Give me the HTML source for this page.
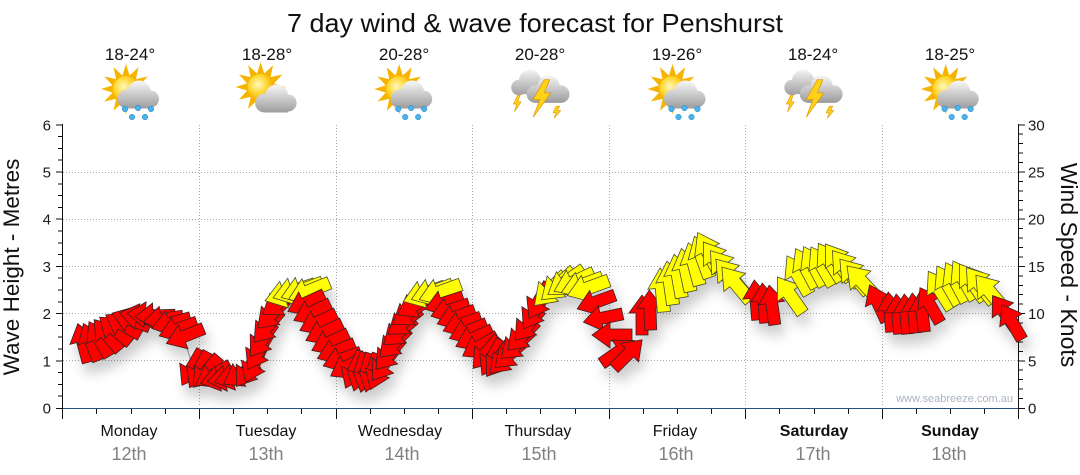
<!DOCTYPE html>
<html><head><meta charset="utf-8"><style>
html,body{margin:0;padding:0;background:#fff}
svg{display:block}
text{font-family:"Liberation Sans",Arial,sans-serif}
</style></head><body>
<svg width="1080" height="475" viewBox="0 0 1080 475" xmlns="http://www.w3.org/2000/svg">
<defs>
<radialGradient id="sg" cx="40%" cy="40%" r="65%"><stop offset="0" stop-color="#fff8c0"/><stop offset=".55" stop-color="#ffd62e"/><stop offset="1" stop-color="#f0a000"/></radialGradient>
<linearGradient id="cg1" gradientUnits="userSpaceOnUse" x1="0" y1="-12" x2="0" y2="15"><stop offset="0" stop-color="#f6f6f6"/><stop offset="1" stop-color="#9e9e9e"/></linearGradient>
<linearGradient id="cg2" gradientUnits="userSpaceOnUse" x1="0" y1="-8" x2="0" y2="19"><stop offset="0" stop-color="#f6f6f6"/><stop offset="1" stop-color="#9e9e9e"/></linearGradient>
<linearGradient id="cg3" gradientUnits="userSpaceOnUse" x1="0" y1="-21" x2="0" y2="2"><stop offset="0" stop-color="#f2f2f2"/><stop offset="1" stop-color="#a0a0a0"/></linearGradient>
<linearGradient id="cg4" gradientUnits="userSpaceOnUse" x1="0" y1="-16" x2="0" y2="9"><stop offset="0" stop-color="#f6f6f6"/><stop offset="1" stop-color="#9a9a9a"/></linearGradient>
<g id="sun">
<polygon fill="#f6b400" points="25,0 13.5,3.6 21.7,12.5 9.9,9.9 12.5,21.7 3.6,13.5 0,25 -3.6,13.5 -12.5,21.7 -9.9,9.9 -21.7,12.5 -13.5,3.6 -25,0 -13.5,-3.6 -21.7,-12.5 -9.9,-9.9 -12.5,-21.7 -3.6,-13.5 0,-25 3.6,-13.5 12.5,-21.7 9.9,-9.9 21.7,-12.5 13.5,-3.6"/>
<circle r="13" fill="url(#sg)"/>
</g>
<g id="irain">
<use href="#sun" transform="translate(-5,-4)"/>
<g fill="url(#cg1)"><circle cx="-4" cy="6" r="9.5"/><circle cx="8" cy="-1" r="11.5"/><circle cx="19.5" cy="6" r="8.5"/><rect x="-4" y="6" width="23.5" height="9.5"/></g>
<g fill="#4cb2ea" stroke="#2a88c4" stroke-width=".5"><circle cx="-6" cy="16" r="2.8"/><circle cx="7" cy="15" r="2.8"/><circle cx="20" cy="16" r="2.8"/><circle cx="1" cy="24" r="2.8"/><circle cx="14" cy="24" r="2.8"/></g>
</g>
<g id="isunc">
<use href="#sun" transform="translate(-7,-6)"/>
<g fill="url(#cg2)"><circle cx="-3" cy="10" r="9.5"/><circle cx="9" cy="3" r="11.5"/><circle cx="20.5" cy="10" r="8.5"/><rect x="-3" y="10" width="23.5" height="9.5"/></g>
</g>
<g id="istorm">
<g fill="url(#cg3)"><circle cx="-20" cy="-5" r="7"/><circle cx="-10" cy="-11" r="10"/><circle cx="1" cy="-6" r="8"/><rect x="-20" y="-5" width="21" height="6"/></g>
<polygon fill="#ffd21a" stroke="#e09a00" stroke-width=".6" points="-21,2 -25,10 -22,10 -24,17 -18,8 -21,8 -19,2"/>
<g fill="url(#cg4)"><circle cx="-5" cy="1" r="8"/><circle cx="7" cy="-6" r="10"/><circle cx="18" cy="1" r="8"/><rect x="-5" y="1" width="23" height="8"/></g>
<polygon fill="#ffd21a" stroke="#e09a00" stroke-width=".7" points="3,-12 -7,6 -1,6 -7,22 9,0 3,0 8,-12"/>
<polygon fill="#ffd21a" stroke="#e09a00" stroke-width=".6" points="14,12 11,18 14,18 12,23 18,16 15,16 17,12"/>
</g>
<path id="R" d="M-20,-6 H2 V-13 L20,0 L2,13 V6 H-20 Z" fill="#ff0000" stroke="#3a2020" stroke-width=".8" stroke-linejoin="miter"/>
<path id="Y" d="M-22,-6.5 H2 V-14 L22,0 L2,14 V6.5 H-22 Z" fill="#ffff00" stroke="#4a4a30" stroke-width=".8"/>
<filter id="sh" x="-5%" y="-30%" width="110%" height="170%"><feDropShadow dx="4" dy="10" stdDeviation="6" flood-color="#000" flood-opacity="0.2"/></filter>
</defs>

<!-- title -->
<text x="535" y="32" font-size="26" text-anchor="middle" textLength="496" lengthAdjust="spacingAndGlyphs" fill="#111">7 day wind &amp; wave forecast for Penshurst</text>

<!-- temps -->
<g font-size="17" fill="#111" text-anchor="middle">
<text x="130" y="60">18-24°</text>
<text x="267" y="60">18-28°</text>
<text x="404" y="60">20-28°</text>
<text x="540" y="60">20-28°</text>
<text x="677" y="60">19-26°</text>
<text x="813" y="60">18-24°</text>
<text x="950" y="60">18-25°</text>
</g>

<!-- icons -->
<use href="#irain" transform="translate(131,93)"/>
<use href="#isunc" transform="translate(267.6,93)"/>
<use href="#irain" transform="translate(404.2,93)"/>
<use href="#istorm" transform="translate(540.9,93) scale(1.1)"/>
<use href="#irain" transform="translate(677.5,93)"/>
<use href="#istorm" transform="translate(814,93) scale(1.1)"/>
<use href="#irain" transform="translate(950.7,93)"/>

<!-- grid -->
<g stroke="#a8a8a8" stroke-width="1" stroke-dasharray="1,2" shape-rendering="crispEdges">
<path d="M63,360.5 H1018 M63,313.5 H1018 M63,266.5 H1018 M63,219.5 H1018 M63,172.5 H1018"/>
<path d="M199.5,125 V407 M336.5,125 V407 M472.5,125 V407 M609.5,125 V407 M745.5,125 V407 M882.5,125 V407"/>
</g>

<!-- watermark -->
<text x="1013" y="402" font-size="11" text-anchor="end" fill="#a9b4c4">www.seabreeze.com.au</text>

<!-- axes -->
<g stroke="#111" stroke-width="1" shape-rendering="crispEdges" fill="none">
<path d="M62.5,124 V419 M1018.5,124 V419"/>
<path d="M56,408.5 H63 M56,360.8 H63 M56,313.6 H63 M56,266.4 H63 M56,219.2 H63 M56,172 H63 M56,124.8 H63"/>
<path d="M58,396.2 H63 M58,384.4 H63 M58,372.6 H63 M58,349 H63 M58,337.2 H63 M58,325.4 H63 M58,301.8 H63 M58,290 H63 M58,278.2 H63 M58,254.6 H63 M58,242.8 H63 M58,231 H63 M58,207.4 H63 M58,195.6 H63 M58,183.8 H63 M58,160.2 H63 M58,148.4 H63 M58,136.6 H63"/>
<path d="M1018,408.5 H1025 M1018,360.8 H1025 M1018,313.6 H1025 M1018,266.4 H1025 M1018,219.2 H1025 M1018,172 H1025 M1018,124.8 H1025"/>
<path d="M1018,398.6 H1023 M1018,389.1 H1023 M1018,379.7 H1023 M1018,370.2 H1023 M1018,351.4 H1023 M1018,341.9 H1023 M1018,332.5 H1023 M1018,323 H1023 M1018,304.2 H1023 M1018,294.7 H1023 M1018,285.3 H1023 M1018,275.8 H1023 M1018,257 H1023 M1018,247.5 H1023 M1018,238.1 H1023 M1018,228.6 H1023 M1018,209.8 H1023 M1018,200.3 H1023 M1018,190.9 H1023 M1018,181.4 H1023 M1018,162.6 H1023 M1018,153.1 H1023 M1018,143.7 H1023 M1018,134.2 H1023"/>
<path d="M199.5,408 V419 M336.5,408 V419 M472.5,408 V419 M609.5,408 V419 M745.5,408 V419 M882.5,408 V419"/>
<path d="M96.5,408 V414 M131.5,408 V414 M165.5,408 V414 M233.5,408 V414 M267.5,408 V414 M301.5,408 V414 M370.5,408 V414 M404.5,408 V414 M438.5,408 V414 M506.5,408 V414 M540.5,408 V414 M575.5,408 V414 M643.5,408 V414 M677.5,408 V414 M711.5,408 V414 M779.5,408 V414 M814.5,408 V414 M848.5,408 V414 M916.5,408 V414 M950.5,408 V414 M984.5,408 V414"/>
<path d="M62,408.5 H75"/>
</g>
<path d="M63,408.5 H1018" stroke="#24507a" stroke-width="1.3" shape-rendering="crispEdges"/>

<!-- axis labels -->
<g font-size="15" fill="#1a1a1a">
<g text-anchor="end">
<text x="51" y="413.5">0</text><text x="51" y="366.3">1</text><text x="51" y="319.1">2</text><text x="51" y="271.9">3</text><text x="51" y="224.7">4</text><text x="51" y="177.5">5</text><text x="51" y="130.3">6</text>
</g>
<text x="1028" y="413.5">0</text><text x="1028" y="366.3">5</text><text x="1028" y="319.1">10</text><text x="1028" y="271.9">15</text><text x="1028" y="224.7">20</text><text x="1028" y="177.5">25</text><text x="1028" y="130.3">30</text>
</g>
<text transform="translate(19,267) rotate(-90)" font-size="22.5" text-anchor="middle" fill="#111">Wave Height - Metres</text>
<text transform="translate(1061,265) rotate(90)" font-size="23" text-anchor="middle" fill="#111">Wind Speed - Knots</text>

<!-- day labels -->
<g font-size="16" fill="#111" text-anchor="middle">
<text x="129" y="436">Monday</text>
<text x="266" y="436">Tuesday</text>
<text x="400" y="436">Wednesday</text>
<text x="538" y="436">Thursday</text>
<text x="675" y="436">Friday</text>
<text x="814" y="436" font-weight="bold">Saturday</text>
<text x="950" y="436" font-weight="bold">Sunday</text>
</g>
<g font-size="18" fill="#808080" text-anchor="middle">
<text x="129" y="460">12th</text>
<text x="266" y="460">13th</text>
<text x="402" y="460">14th</text>
<text x="539" y="460">15th</text>
<text x="676" y="460">16th</text>
<text x="813" y="460">17th</text>
<text x="949" y="460">18th</text>
</g>

<!-- wave line fragment -->
<path d="M187,348 L193,368" stroke="#999" stroke-width="1" fill="none"/>

<!-- arrows -->
<g filter="url(#sh)">
<use href="#R" transform="translate(83,343) rotate(-105)"/>
<use href="#R" transform="translate(91,342) rotate(-112)"/>
<use href="#R" transform="translate(99,339) rotate(-120)"/>
<use href="#R" transform="translate(107,335) rotate(-130)"/>
<use href="#R" transform="translate(115,330) rotate(-140)"/>
<use href="#R" transform="translate(123,325) rotate(-150)"/>
<use href="#R" transform="translate(131,320) rotate(-160)"/>
<use href="#R" transform="translate(139,317) rotate(-168)"/>
<use href="#R" transform="translate(147,315) rotate(-175)"/>
<use href="#R" transform="translate(155,316) rotate(178)"/>
<use href="#R" transform="translate(163,319) rotate(172)"/>
<use href="#R" transform="translate(171,323) rotate(165)"/>
<use href="#R" transform="translate(178,329) rotate(160)"/>
<use href="#R" transform="translate(185,336) rotate(158)"/>
<use href="#R" transform="translate(192,368) rotate(120)"/>
<use href="#R" transform="translate(199,370) rotate(118)"/>
<use href="#R" transform="translate(206,372) rotate(130)"/>
<use href="#R" transform="translate(213,375) rotate(150)"/>
<use href="#R" transform="translate(220,378) rotate(165)"/>
<use href="#R" transform="translate(227,378) rotate(170)"/>
<use href="#R" transform="translate(234,377) rotate(165)"/>
<use href="#R" transform="translate(241,374) rotate(150)"/>
<use href="#R" transform="translate(248,370) rotate(125)"/>
<use href="#R" transform="translate(254,364) rotate(115)"/>
<use href="#R" transform="translate(258,352) rotate(120)"/>
<use href="#R" transform="translate(262,340) rotate(125)"/>
<use href="#R" transform="translate(267,327) rotate(130)"/>
<use href="#R" transform="translate(272,314) rotate(135)"/>
<use href="#R" transform="translate(279,303) rotate(145)"/>
<use href="#Y" transform="translate(286,294) rotate(162)"/>
<use href="#Y" transform="translate(294,291) rotate(162)"/>
<use href="#Y" transform="translate(302,290) rotate(160)"/>
<use href="#Y" transform="translate(309,291) rotate(158)"/>
<use href="#R" transform="translate(306,303) rotate(155)"/>
<use href="#R" transform="translate(312,312) rotate(155)"/>
<use href="#R" transform="translate(318,322) rotate(155)"/>
<use href="#R" transform="translate(324,332) rotate(155)"/>
<use href="#R" transform="translate(330,342) rotate(155)"/>
<use href="#R" transform="translate(336,351) rotate(158)"/>
<use href="#R" transform="translate(342,359) rotate(160)"/>
<use href="#R" transform="translate(348,366) rotate(150)"/>
<use href="#R" transform="translate(354,370) rotate(115)"/>
<use href="#R" transform="translate(360,372) rotate(108)"/>
<use href="#R" transform="translate(366,373) rotate(105)"/>
<use href="#R" transform="translate(372,373) rotate(108)"/>
<use href="#R" transform="translate(378,371) rotate(112)"/>
<use href="#R" transform="translate(384,364) rotate(125)"/>
<use href="#R" transform="translate(389,354) rotate(130)"/>
<use href="#R" transform="translate(394,343) rotate(135)"/>
<use href="#R" transform="translate(399,332) rotate(140)"/>
<use href="#R" transform="translate(404,322) rotate(142)"/>
<use href="#R" transform="translate(409,313) rotate(145)"/>
<use href="#R" transform="translate(415,305) rotate(150)"/>
<use href="#Y" transform="translate(424,294) rotate(160)"/>
<use href="#Y" transform="translate(432,292) rotate(160)"/>
<use href="#Y" transform="translate(440,292) rotate(160)"/>
<use href="#R" transform="translate(444,303) rotate(162)"/>
<use href="#R" transform="translate(450,310) rotate(162)"/>
<use href="#R" transform="translate(456,317) rotate(160)"/>
<use href="#R" transform="translate(462,324) rotate(160)"/>
<use href="#R" transform="translate(468,331) rotate(158)"/>
<use href="#R" transform="translate(474,338) rotate(155)"/>
<use href="#R" transform="translate(480,346) rotate(150)"/>
<use href="#R" transform="translate(486,353) rotate(130)"/>
<use href="#R" transform="translate(492,358) rotate(120)"/>
<use href="#R" transform="translate(498,360) rotate(125)"/>
<use href="#R" transform="translate(504,359) rotate(135)"/>
<use href="#R" transform="translate(510,354) rotate(138)"/>
<use href="#R" transform="translate(516,345) rotate(138)"/>
<use href="#R" transform="translate(522,336) rotate(135)"/>
<use href="#R" transform="translate(528,325) rotate(130)"/>
<use href="#R" transform="translate(534,312) rotate(122)"/>
<use href="#R" transform="translate(539,301) rotate(120)"/>
<use href="#Y" transform="translate(550,290) rotate(135)"/>
<use href="#Y" transform="translate(558,285) rotate(138)"/>
<use href="#Y" transform="translate(566,282) rotate(145)"/>
<use href="#Y" transform="translate(574,282) rotate(155)"/>
<use href="#Y" transform="translate(582,285) rotate(160)"/>
<use href="#Y" transform="translate(588,288) rotate(160)"/>
<use href="#R" transform="translate(596,302) rotate(160)"/>
<use href="#R" transform="translate(603,318) rotate(168)"/>
<use href="#R" transform="translate(612,335) rotate(180)"/>
<use href="#R" transform="translate(618,352) rotate(-35)"/>
<use href="#R" transform="translate(628,354) rotate(-45)"/>
<use href="#R" transform="translate(642,315) rotate(-90)"/>
<use href="#R" transform="translate(650,310) rotate(-92)"/>
<use href="#Y" transform="translate(662,290) rotate(-95)"/>
<use href="#Y" transform="translate(670,283) rotate(-98)"/>
<use href="#Y" transform="translate(678,276) rotate(-100)"/>
<use href="#Y" transform="translate(686,270) rotate(-102)"/>
<use href="#Y" transform="translate(694,264) rotate(-105)"/>
<use href="#Y" transform="translate(702,257) rotate(-110)"/>
<use href="#Y" transform="translate(708,252) rotate(-118)"/>
<use href="#Y" transform="translate(716,260) rotate(-125)"/>
<use href="#Y" transform="translate(724,268) rotate(-128)"/>
<use href="#Y" transform="translate(730,276) rotate(-130)"/>
<use href="#Y" transform="translate(736,284) rotate(-130)"/>
<use href="#R" transform="translate(756,300) rotate(-95)"/>
<use href="#R" transform="translate(764,303) rotate(-95)"/>
<use href="#R" transform="translate(772,305) rotate(-98)"/>
<use href="#Y" transform="translate(790,295) rotate(-125)"/>
<use href="#Y" transform="translate(798,275) rotate(-120)"/>
<use href="#Y" transform="translate(806,268) rotate(-118)"/>
<use href="#Y" transform="translate(814,266) rotate(-118)"/>
<use href="#Y" transform="translate(822,266) rotate(-120)"/>
<use href="#Y" transform="translate(830,262) rotate(-122)"/>
<use href="#Y" transform="translate(838,262) rotate(-125)"/>
<use href="#Y" transform="translate(846,268) rotate(-128)"/>
<use href="#Y" transform="translate(854,276) rotate(-130)"/>
<use href="#Y" transform="translate(862,282) rotate(-133)"/>
<use href="#R" transform="translate(878,303) rotate(-115)"/>
<use href="#R" transform="translate(890,312) rotate(-95)"/>
<use href="#R" transform="translate(898,314) rotate(-95)"/>
<use href="#R" transform="translate(906,314) rotate(-95)"/>
<use href="#R" transform="translate(914,313) rotate(-95)"/>
<use href="#R" transform="translate(922,312) rotate(-97)"/>
<use href="#R" transform="translate(930,305) rotate(-120)"/>
<use href="#Y" transform="translate(940,290) rotate(-122)"/>
<use href="#Y" transform="translate(948,285) rotate(-120)"/>
<use href="#Y" transform="translate(956,282) rotate(-118)"/>
<use href="#Y" transform="translate(964,280) rotate(-120)"/>
<use href="#Y" transform="translate(972,282) rotate(-125)"/>
<use href="#Y" transform="translate(980,285) rotate(-128)"/>
<use href="#Y" transform="translate(990,292) rotate(-130)"/>
<use href="#R" transform="translate(1004,312) rotate(-125)"/>
<use href="#R" transform="translate(1012,322) rotate(-120)"/>
</g>
</svg>
</body></html>
